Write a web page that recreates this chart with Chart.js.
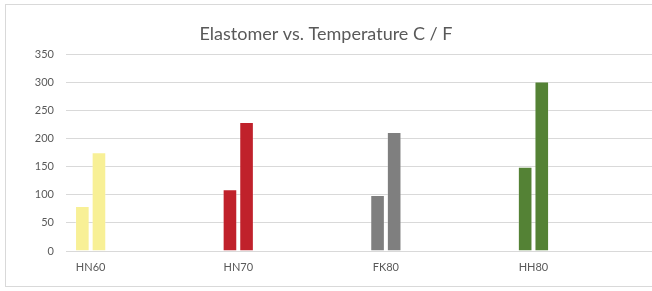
<!DOCTYPE html>
<html>
<head>
<meta charset="utf-8">
<script src="https://cdn.jsdelivr.net/npm/chart.js@4"></script>
<style>
  html, body { margin: 0; padding: 0; background: #fff; overflow: hidden; }
  #wrap { position: relative; width: 652px; height: 291px; }
  #frame { position: absolute; left: 5px; top: 4px; width: 700px; height: 283px; border: 1px solid #d9d9d9; box-sizing: border-box; }
  canvas { position: absolute; left: 0; top: 0; }
</style>
</head>
<body>
<div id="wrap">
  <div id="frame"></div>
  <canvas id="c" width="652" height="291"></canvas>
</div>
<script>
const categories = ['HN60', 'HN70', 'FK80', 'HH80'];
const celsius = [80, 110, 100, 150];
const fahrenheit = [176, 230, 212, 302];
const barColors = ['#F8F096', '#C0212B', '#7F7F7F', '#548235'];
const yTicks = [0, 50, 100, 150, 200, 250, 300, 350];

const FONT = 'Lato, "Open Sans", sans-serif';

function toPoints(vals) { return vals.map((v, i) => ({ x: i, y: v })); }

new Chart(document.getElementById('c'), {
  type: 'bar',
  data: {
    datasets: [
      { label: 'C', data: toPoints(celsius), backgroundColor: barColors, borderColor: 'rgba(255,255,255,0.25)', borderWidth: 1, borderSkipped: 'bottom' },
      { label: 'F', data: toPoints(fahrenheit), backgroundColor: barColors, borderColor: 'rgba(255,255,255,0.25)', borderWidth: 1, borderSkipped: 'bottom' }
    ]
  },
  options: {
    responsive: false,
    animation: false,
    categoryPercentage: 0.225,
    barPercentage: 0.88,
    layout: { padding: { left: 0, right: 0, top: 0, bottom: 0 } },
    plugins: {
      legend: { display: false },
      tooltip: { enabled: false },
      title: {
        display: true,
        text: 'Elastomer vs. Temperature C / F',
        color: '#595959',
        font: { family: FONT, size: 18, weight: 'normal' },
        padding: { top: 23, bottom: 10 }
      }
    },
    scales: {
      x: {
        type: 'linear',
        offset: false,
        bounds: 'data',
        min: -0.167,
        max: 3.803,
        afterBuildTicks: s => { s.ticks = categories.map((c, i) => ({ value: i })); },
        afterFit: s => { s.height = 40; },
        grid: { display: false, drawTicks: false, offset: false },
        border: { display: true, color: '#d9d9d9' },
        ticks: {
          padding: 10,
          color: '#595959',
          font: { family: FONT, size: 11 },
          maxRotation: 0,
          autoSkip: false,
          callback: v => categories[v] ?? ''
        }
      },
      y: {
        min: 0,
        max: 350,
        afterBuildTicks: s => { s.ticks = yTicks.map(v => ({ value: v })); },
        afterFit: s => { s.width = 66; },
        grid: { color: '#d9d9d9', lineWidth: 1, drawTicks: false },
        border: { display: false },
        ticks: {
          padding: 12,
          color: '#595959',
          font: { family: FONT, size: 11 }
        }
      }
    }
  }
});
</script>
</body>
</html>
